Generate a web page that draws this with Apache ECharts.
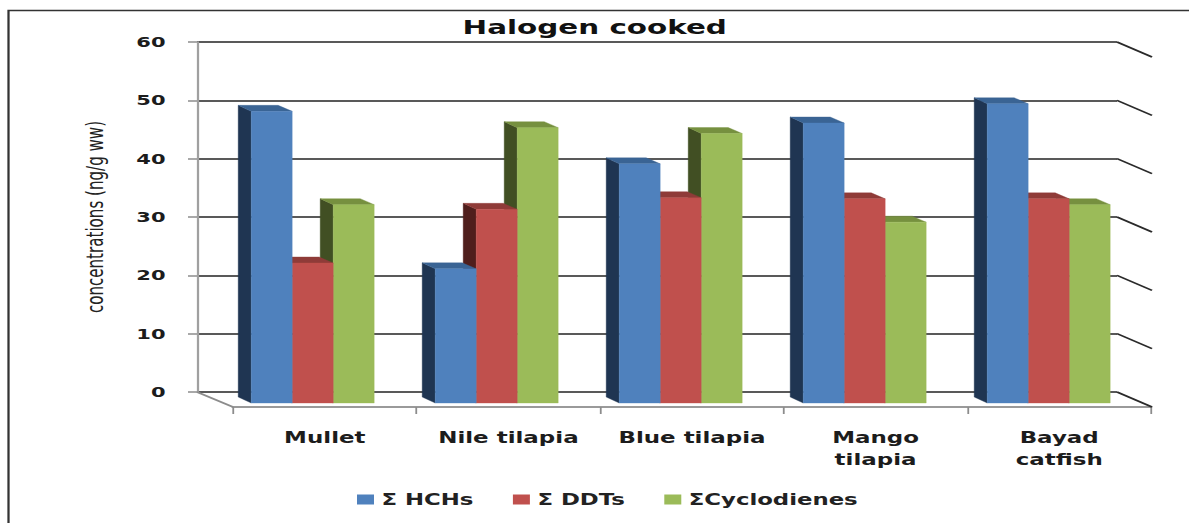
<!DOCTYPE html>
<html>
<head>
<meta charset="utf-8">
<style>
  html, body { margin: 0; padding: 0; background: #fff; overflow: hidden; }
  #chart { width: 792.67px; height: 523px; transform: scaleX(1.5); transform-origin: 0 0; }
</style>
<script src="https://cdn.jsdelivr.net/npm/echarts@6/dist/echarts.min.js"></script>
</head>
<body>
<div id="chart"></div>
<script>
// Fish categories and residue totals in ng/g wet weight
const categories = ['Mullet', 'Nile tilapia', 'Blue tilapia', 'Mango\ntilapia', 'Bayad\ncatfish'];
const hchs = [50, 23, 41, 48, 51.3];
const ddts = [24, 33.2, 35.2, 35, 35];
const cyclodienes = [34, 47.2, 46.2, 31, 34];
const yTicks = [0, 10, 20, 30, 40, 50, 60];

const seriesNames = ['Σ HCHs', 'Σ DDTs', 'ΣCyclodienes'];
const seriesValues = [hchs, ddts, cyclodienes];
const faceColors = [
  { front: '#4f81bd', top: '#3a6494', side: '#1f3552' },
  { front: '#c0504d', top: '#8f3b38', side: '#4f1e1c' },
  { front: '#9bbb59', top: '#76903f', side: '#414f23' }
];

// The page is stretched sideways by this factor, so layout widths are divided by it
const S = 1.5;
const px = (x) => x / S;

// Box projection, in chart units, from the back wall to the bar faces and the floor edge
const BAR_W = px(41);
const FRONT_DX = px(23.7), FRONT_DY = 11;
const BACK_DX_L = px(10.7), BACK_DY = 5;
const FLOOR_DX = px(35), FLOOR_DY = 15;

function renderBar(seriesIndex) {
  const colors = faceColors[seriesIndex];
  return function (params, api) {
    const cat = api.value(0);
    const top = api.coord([cat, api.value(1)]);
    const base = api.coord([cat, 0]);
    const left = top[0] + FRONT_DX + (seriesIndex - 1.5) * BAR_W;
    const right = left + BAR_W;
    const backL = top[0] + BACK_DX_L + (seriesIndex - 1.5) * BAR_W;
    const backR = backL + BAR_W - px(1);
    const fy = top[1] + FRONT_DY, fb = base[1] + FRONT_DY;
    const by = top[1] + BACK_DY, bb = base[1] + BACK_DY;
    const poly = (points, fill) => ({
      type: 'polygon',
      shape: { points: points },
      style: { fill: fill, stroke: fill, lineWidth: 0.3 }
    });
    return {
      type: 'group',
      children: [
        poly([[backL, by], [left, fy], [left, fb], [backL, bb]], colors.side),
        poly([[backL, by], [backR, by], [right, fy], [left, fy]], colors.top),
        poly([[left, fy], [right, fy], [right, fb], [left, fb]], colors.front)
      ]
    };
  };
}

// Side-wall gridlines and the two floor edges
function renderWallEdges(params, api) {
  const rect = params.coordSys;
  const y = api.coord([0, api.value(0)])[1];
  const x1 = rect.x + rect.width;
  const children = [{
    type: 'line',
    shape: { x1: x1, y1: y, x2: x1 + FLOOR_DX, y2: y + FLOOR_DY },
    style: { stroke: '#2a2a2a', lineWidth: 1.5 }
  }];
  if (api.value(0) === 0) {
    children.push({
      type: 'line',
      shape: { x1: rect.x, y1: y, x2: rect.x + px(36), y2: y + FLOOR_DY },
      style: { stroke: '#8c8c8c', lineWidth: 1.5 }
    });
  }
  return { type: 'group', children: children };
}

const textFont = 'DejaVu Sans';

const chart = echarts.init(document.getElementById('chart'), null, { renderer: 'svg' });
chart.setOption({
  animation: false,
  backgroundColor: '#ffffff',
  title: {
    text: 'Halogen cooked',
    left: 'center',
    top: 12,
    textStyle: { fontFamily: textFont, fontWeight: 'bold', fontSize: 19.6, color: '#111' }
  },
  legend: {
    left: px(357),
    top: 492,
    padding: 0,
    icon: 'rect',
    itemWidth: px(17),
    itemHeight: 10,
    itemGap: px(39.5),
    data: seriesNames,
    textStyle: { fontFamily: textFont, fontWeight: 'bold', fontSize: 15.2, color: '#222' }
  },
  grid: [
    { left: px(197), width: px(920), top: 42, height: 350 },
    { left: px(233), width: px(918), top: 57, height: 350 }
  ],
  xAxis: [
    {
      type: 'category',
      gridIndex: 0,
      data: categories,
      axisLine: { show: false },
      axisTick: { show: false },
      axisLabel: { show: false }
    },
    {
      type: 'category',
      gridIndex: 1,
      data: categories,
      axisLine: { show: true, onZero: false, lineStyle: { color: '#9a9a9a', width: 2 } },
      axisTick: { show: true, length: 7, lineStyle: { color: '#8c8c8c', width: 1.2 } },
      axisLabel: {
        margin: 20,
        interval: 0,
        lineHeight: 22,
        fontFamily: textFont,
        fontWeight: 'bold',
        fontSize: 15.3,
        color: '#1c1c1c'
      }
    }
  ],
  yAxis: [
    {
      type: 'value',
      gridIndex: 0,
      min: 0,
      max: 60,
      interval: 10,
      name: 'concentrations (ng/g ww)',
      nameLocation: 'middle',
      nameGap: 60,
      nameTextStyle: { fontFamily: textFont, fontSize: 15.1, color: '#222' },
      axisLine: { show: true, lineStyle: { color: '#a0a0a0', width: 1.5 } },
      axisTick: { show: true, length: px(9), lineStyle: { color: '#8c8c8c', width: 1.5 } },
      axisLabel: {
        margin: 21,
        fontFamily: textFont,
        fontWeight: 'bold',
        fontSize: 14,
        color: '#1c1c1c',
        customValues: yTicks
      },
      splitLine: { lineStyle: { color: '#222222', width: 1.6 } }
    },
    { type: 'value', gridIndex: 1, min: 0, max: 60, show: false, splitLine: { show: false } }
  ],
  series: [
    {
      type: 'custom',
      name: 'wall edges',
      xAxisIndex: 0,
      yAxisIndex: 0,
      z: 1,
      silent: true,
      encode: { y: 0 },
      data: yTicks.map((v) => [v]),
      renderItem: renderWallEdges
    }
  ].concat(seriesNames.map((name, i) => ({
    type: 'custom',
    name: name,
    xAxisIndex: 0,
    yAxisIndex: 0,
    z: 5 - i,
    itemStyle: { color: faceColors[i].front },
    encode: { x: 0, y: 1 },
    data: seriesValues[i].map((v, c) => [c, v]),
    renderItem: renderBar(i)
  }))),
  // Chart frame: top and left rules only
  graphic: [{
    type: 'polyline',
    silent: true,
    shape: { points: [[px(8.5), 523], [px(8.5), 10.5], [793, 10.5]] },
    style: { fill: 'none', stroke: '#333333', lineWidth: 1.5 }
  }]
});
</script>
</body>
</html>
